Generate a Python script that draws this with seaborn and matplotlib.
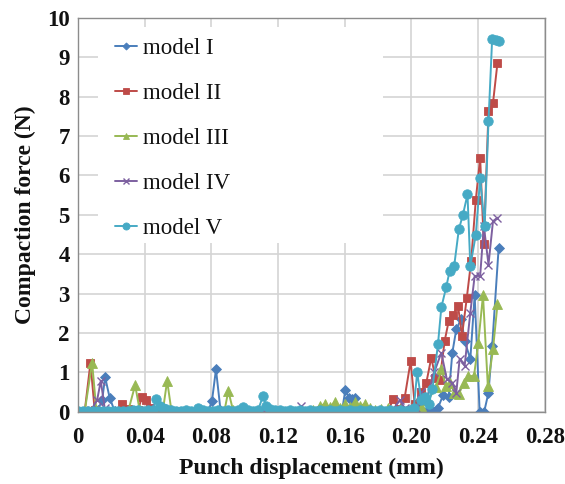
import matplotlib
matplotlib.use("Agg")
import matplotlib.pyplot as plt
from matplotlib.patches import Rectangle
import seaborn as sns
import pandas as pd

# ---------------- data ----------------
model_I_x = [0.000, 0.004, 0.008, 0.012, 0.0145, 0.0163, 0.019, 0.022, 0.026, 0.030,
             0.034, 0.038, 0.042, 0.046, 0.050, 0.054, 0.058, 0.062, 0.066, 0.070,
             0.074, 0.078, 0.0804, 0.0828, 0.0855, 0.089, 0.093, 0.097, 0.101, 0.105,
             0.109, 0.113, 0.117, 0.121, 0.125, 0.129, 0.133, 0.137, 0.141, 0.145,
             0.149, 0.153, 0.157, 0.1585, 0.1604, 0.1626, 0.1645, 0.166, 0.168, 0.171,
             0.175, 0.179, 0.183, 0.187, 0.191, 0.195, 0.199, 0.203, 0.206, 0.209,
             0.212, 0.2137, 0.216, 0.219, 0.2224, 0.2246, 0.227, 0.230, 0.232, 0.2354,
             0.238, 0.241, 0.2437, 0.2463, 0.2485, 0.2524]
model_I_y = [0, 0, 0, 0.05, 0.30, 0.88, 0.36, 0.02, 0, 0,
             0, 0, 0, 0, 0, 0, 0, 0, 0, 0,
             0, 0, 0.28, 1.08, 0.05, 0, 0, 0, 0, 0,
             0, 0, 0, 0, 0, 0, 0, 0, 0, 0,
             0, 0, 0, 0.05, 0.55, 0.36, 0.33, 0.36, 0.05, 0,
             0, 0, 0, 0, 0, 0, 0, 0, 0.05, 0,
             0.05, 0, 0.10, 0.42, 0.38, 1.50, 2.10, 2.37, 1.80, 1.34,
             2.96, 0, 0, 0.49, 1.67, 4.17]

model_II_x = [0.000, 0.004, 0.0075, 0.010, 0.014, 0.018, 0.022, 0.0265, 0.030, 0.033,
              0.036, 0.0385, 0.041, 0.0435, 0.047, 0.050, 0.054, 0.058, 0.062, 0.066,
              0.070, 0.074, 0.078, 0.082, 0.086, 0.090, 0.094, 0.098, 0.102, 0.106,
              0.110, 0.114, 0.118, 0.122, 0.126, 0.130, 0.134, 0.138, 0.142, 0.146,
              0.150, 0.154, 0.158, 0.162, 0.166, 0.170, 0.174, 0.178, 0.182, 0.186,
              0.189, 0.1925, 0.196, 0.1996, 0.202, 0.206, 0.209, 0.212, 0.2145, 0.217,
              0.220, 0.2224, 0.2252, 0.228, 0.2304, 0.2333, 0.2359, 0.2387, 0.2413, 0.2435,
              0.2463, 0.249, 0.2517]
model_II_y = [0, 0, 1.25, 0.05, 0, 0, 0, 0.20, 0.08, 0.03,
              0.05, 0.38, 0.30, 0.10, 0.03, 0, 0, 0, 0, 0,
              0, 0, 0, 0, 0, 0, 0, 0, 0, 0,
              0, 0, 0, 0, 0, 0, 0, 0, 0, 0,
              0, 0, 0, 0, 0, 0, 0, 0, 0, 0,
              0.32, 0.08, 0.36, 1.29, 0.20, 0.50, 0.74, 1.38, 0.85, 0.80,
              1.80, 2.30, 2.47, 2.70, 1.93, 2.90, 3.83, 5.39, 6.45, 4.25,
              7.63, 7.84, 8.86]

model_III_x = [0.000, 0.004, 0.0085, 0.011, 0.014, 0.018, 0.022, 0.026, 0.030, 0.0343,
               0.037, 0.040, 0.044, 0.048, 0.051, 0.0535, 0.056, 0.060, 0.064, 0.068,
               0.072, 0.076, 0.080, 0.084, 0.088, 0.0902, 0.093, 0.097, 0.101, 0.105,
               0.109, 0.113, 0.117, 0.121, 0.125, 0.129, 0.133, 0.137, 0.141, 0.145,
               0.148, 0.151, 0.154, 0.157, 0.160, 0.163, 0.166, 0.169, 0.172, 0.175,
               0.178, 0.182, 0.186, 0.190, 0.194, 0.198, 0.202, 0.206, 0.210, 0.2148,
               0.218, 0.2207, 0.2235, 0.2257, 0.2285, 0.2315, 0.2343, 0.2376, 0.2402, 0.243,
               0.2459, 0.249, 0.2517]
model_III_y = [0, 0, 1.25, 0.05, 0, 0, 0, 0, 0, 0.68,
               0.05, 0, 0, 0, 0.05, 0.79, 0.05, 0, 0, 0,
               0, 0, 0, 0, 0.05, 0.53, 0.05, 0, 0, 0,
               0, 0, 0, 0, 0, 0, 0, 0, 0.05, 0.15,
               0.20, 0.12, 0.25, 0.10, 0.20, 0.12, 0.25, 0.15, 0.20, 0.10,
               0.05, 0.08, 0.10, 0.05, 0.10, 0.05, 0.05, 0.15, 0.30, 0.62,
               1.08, 0.66, 0.74, 0.49, 0.45, 0.74, 0.91, 0.91, 1.76, 2.96,
               0.66, 1.59, 2.73]

model_IV_x = [0.000, 0.004, 0.008, 0.0115, 0.0137, 0.016, 0.019, 0.023, 0.027, 0.031,
              0.035, 0.039, 0.043, 0.047, 0.051, 0.055, 0.059, 0.063, 0.067, 0.071,
              0.075, 0.079, 0.083, 0.087, 0.091, 0.095, 0.099, 0.103, 0.107, 0.111,
              0.115, 0.119, 0.123, 0.127, 0.131, 0.134, 0.137, 0.141, 0.145, 0.149,
              0.153, 0.157, 0.161, 0.165, 0.169, 0.173, 0.177, 0.181, 0.185, 0.189,
              0.193, 0.196, 0.199, 0.203, 0.206, 0.209, 0.2137, 0.218, 0.2213, 0.2246,
              0.227, 0.229, 0.232, 0.2354, 0.238, 0.2413, 0.2435, 0.2463, 0.249, 0.2517]
model_IV_y = [0, 0, 0.05, 0.30, 0.79, 0.10, 0, 0, 0, 0,
              0, 0, 0, 0.10, 0, 0, 0, 0, 0, 0,
              0, 0, 0, 0, 0, 0, 0, 0, 0, 0.05,
              0, 0, 0, 0, 0, 0.15, 0, 0, 0, 0,
              0, 0, 0, 0, 0, 0, 0, 0, 0, 0.05,
              0.30, 0.10, 0.05, 0.10, 0.50, 0.30, 1.00, 1.50, 0.83, 0.74,
              0.49, 1.35, 1.17, 2.52, 3.45, 3.45, 4.72, 3.74, 4.84, 4.93]

model_V_x = [0.000, 0.003, 0.006, 0.009, 0.012, 0.015, 0.018, 0.021, 0.024, 0.027,
             0.030, 0.033, 0.036, 0.039, 0.042, 0.045, 0.047, 0.049, 0.051, 0.053,
             0.056, 0.059, 0.062, 0.065, 0.068, 0.072, 0.075, 0.078, 0.081, 0.084,
             0.087, 0.090, 0.093, 0.096, 0.099, 0.102, 0.105, 0.108, 0.111, 0.113,
             0.115, 0.118, 0.121, 0.124, 0.127, 0.130, 0.133, 0.136, 0.139, 0.142,
             0.145, 0.148, 0.151, 0.154, 0.157, 0.160, 0.163, 0.166, 0.169, 0.172,
             0.175, 0.178, 0.181, 0.184, 0.187, 0.190, 0.193, 0.196, 0.199, 0.2015,
             0.2035, 0.206, 0.208, 0.2105, 0.2126, 0.216, 0.218, 0.221, 0.223, 0.2257,
             0.2285, 0.231, 0.2337, 0.2354, 0.2387, 0.2413, 0.244, 0.2463, 0.2485, 0.251,
             0.2528]
model_V_y = [0.02, 0.02, 0.03, 0.02, 0.03, 0.02, 0.03, 0.02, 0.02, 0.03,
             0.02, 0.05, 0.05, 0.03, 0.05, 0.05, 0.33, 0.15, 0.10, 0.08,
             0.04, 0.03, 0.03, 0.04, 0.03, 0.10, 0.04, 0.03, 0.03, 0.04,
             0.03, 0.04, 0.03, 0.04, 0.12, 0.04, 0.03, 0.04, 0.40, 0.15,
             0.08, 0.04, 0.05, 0.03, 0.04, 0.03, 0.04, 0.03, 0.04, 0.03,
             0.04, 0.03, 0.04, 0.03, 0.04, 0.03, 0.04, 0.03, 0.04, 0.03,
             0.04, 0.03, 0.04, 0.03, 0.04, 0.03, 0.04, 0.03, 0.05, 0.10,
             1.00, 0.30, 0.38, 0.20, 0.57, 1.72, 2.65, 3.18, 3.58, 3.70,
             4.63, 5.01, 5.52, 3.70, 4.50, 5.93, 4.72, 7.38, 9.47, 9.43,
             9.41]

series_names = ["model I", "model II", "model III", "model IV", "model V"]
series_x = [model_I_x, model_II_x, model_III_x, model_IV_x, model_V_x]
series_y = [model_I_y, model_II_y, model_III_y, model_IV_y, model_V_y]

x_ticks = [0, 0.04, 0.08, 0.12, 0.16, 0.20, 0.24, 0.28]
x_tick_labels = ["0", "0.04", "0.08", "0.12", "0.16", "0.20", "0.24", "0.28"]
y_ticks = [0, 1, 2, 3, 4, 5, 6, 7, 8, 9, 10]

# ---------------- styles ----------------
colors = ["#4A7EBB", "#BE4B48", "#98B954", "#7D60A0", "#46AAC5"]
markers = ["D", "s", "^", "x", "o"]
msizes = [4.8, 5.5, 6.5, 5.5, 6.8]

sns.set_style("white")
plt.rcParams["font.family"] = ["Liberation Serif", "DejaVu Serif"]

fig = plt.figure(figsize=(5.65, 4.84), dpi=100)
ax = fig.add_axes([0.138, 0.149, 0.826, 0.814])

for name, xs, ys, c, m, ms in zip(series_names, series_x, series_y, colors, markers, msizes):
    assert len(xs) == len(ys)
    df = pd.DataFrame({"x": xs, "y": ys})
    sns.lineplot(data=df, x="x", y="y", ax=ax, color=c, marker=m, markersize=ms,
                 markeredgecolor=c, markeredgewidth=1.0 if m == "x" else 0.6,
                 linewidth=1.4, label=name, estimator=None, sort=False)

ax.set_xlim(0, 0.28)
ax.set_ylim(0, 10)
ax.set_xticks(x_ticks)
ax.set_xticklabels(x_tick_labels)
ax.set_yticks(y_ticks)
ax.grid(True, color="#d4d4d4", linewidth=1.2)
ax.set_axisbelow(True)
for s in ax.spines.values():
    s.set_color("#8c8c8c")
    s.set_linewidth(1.0)

ax.tick_params(axis="both", length=0, labelsize=16.5, colors="#111111")
ax.tick_params(axis="x", pad=11)
ax.tick_params(axis="y", pad=6)
for lab in ax.get_xticklabels() + ax.get_yticklabels():
    lab.set_fontweight("bold")

ax.set_xlabel("Punch displacement (mm)", fontsize=17, fontweight="bold", color="#111111", labelpad=7)
ax.set_ylabel("Compaction force (N)", fontsize=17, fontweight="bold", color="#111111", labelpad=8)

# white legend area (hides grid like the original)
ax.add_patch(Rectangle((0.043, 0.429), 0.61, 0.548, transform=ax.transAxes,
                       facecolor="white", edgecolor="none", zorder=1.5))

leg = ax.legend(loc="upper left", bbox_to_anchor=(0.045, 0.99), frameon=False,
                fontsize=16.5, labelspacing=1.05, handlelength=0.95, handletextpad=0.25,
                borderpad=0.2, markerscale=0.75)
for t in leg.get_texts():
    t.set_color("#111111")

fig.savefig("out.png", dpi=100)
